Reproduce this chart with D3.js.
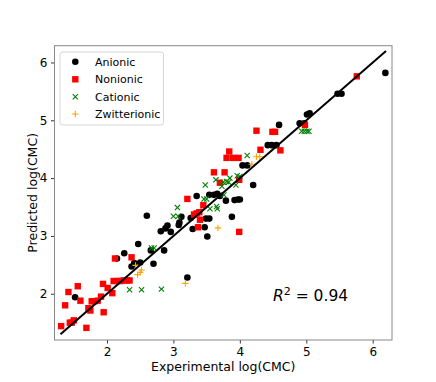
<!DOCTYPE html>
<html><head><meta charset="utf-8">
<script src="https://cdn.jsdelivr.net/npm/d3@7"></script>
<style>body{margin:0;background:#fff}svg{display:block;font-family:"DejaVu Sans",sans-serif}</style>
</head><body><svg id="c" width="436" height="382"></svg>
<script>
const anionicX = [1.52,2.15,2.26,2.37,2.41,2.47,2.50,2.60,2.66,2.70,2.81,2.86,2.88,2.91,2.96,3.08,3.09,3.12,3.21,3.26,3.29,3.35,3.47,3.49,3.51,3.54,3.54,3.61,3.66,3.70,3.79,3.88,3.92,3.97,4.00,4.04,4.11,4.20,4.42,4.48,4.55,4.59,4.90,4.97,5.01,5.05,5.47,5.53,6.19];
const anionicY = [1.94,2.61,2.70,2.47,2.53,2.86,2.54,3.35,2.75,2.52,3.08,2.75,3.13,3.18,3.07,3.19,3.23,3.33,2.28,3.31,3.12,3.69,3.15,3.30,2.99,3.30,3.71,3.71,3.73,3.69,3.61,3.33,3.62,3.63,3.63,4.22,4.22,3.88,4.57,4.57,4.57,4.92,4.95,4.95,5.10,5.12,5.46,5.46,5.82];
const nonionicX = [1.31,1.37,1.42,1.44,1.47,1.50,1.56,1.60,1.69,1.72,1.75,1.77,1.81,1.86,1.91,1.94,1.95,2.01,2.08,2.12,2.10,2.15,2.20,2.25,2.30,2.34,2.37,3.21,3.31,3.35,3.39,3.37,3.40,3.45,3.61,3.77,3.70,3.84,3.80,3.90,3.98,3.99,3.99,4.25,4.31,4.49,4.53,4.61,4.98,5.76];
const nonionicY = [1.44,1.80,2.03,1.50,1.50,1.54,2.13,1.88,1.41,1.75,1.71,1.87,1.87,1.88,1.95,2.17,1.68,2.10,2.01,2.61,2.22,2.22,2.22,2.23,2.23,2.23,2.63,3.64,3.37,3.39,3.41,3.15,3.28,3.53,4.10,4.10,3.92,4.46,4.35,4.35,4.35,3.97,3.07,4.82,4.49,4.80,4.80,4.48,4.92,5.76];
const cationicX = [2.34,2.52,2.82,2.67,2.71,3.00,3.06,3.07,3.46,3.48,3.50,3.55,3.65,3.66,3.64,3.73,3.75,3.80,3.83,3.85,3.76,3.94,3.96,4.00,4.11,4.93,4.97,5.01,5.04];
const cationicY = [2.07,2.07,2.08,2.79,2.79,3.34,3.49,3.34,3.64,3.88,3.64,3.47,3.51,3.47,3.97,3.86,3.93,3.94,3.93,4.00,3.71,3.88,4.04,4.03,4.39,4.81,4.81,4.81,4.81];
const zwitterX = [2.43,2.46,2.50,2.52,3.18,3.67,4.18,4.25,4.30];
const zwitterY = [2.49,2.33,2.37,2.41,2.18,3.14,4.24,4.37,4.37];
const xTicks = [2,3,4,5,6];
const yTicks = [2,3,4,5,6];
const legendLabels = ["Anionic","Nonionic","Cationic","Zwitterionic"];
const fitLine = [1.3,6.2];
const r2Text = "0.94";

const svg = d3.select("#c");
const L=54.5, R=392, T=45.7, B=340;
const x = d3.scaleLinear().domain([1.21,6.29]).range([L,R]);
const y = d3.scaleLinear().domain([1.20,6.29]).range([B,T]);

const xa = svg.append("g").attr("transform",`translate(0,${B})`)
  .call(d3.axisBottom(x).tickValues(xTicks).tickSize(3.5).tickPadding(3.5).tickFormat(d3.format("d")));
const ya = svg.append("g").attr("transform",`translate(${L},0)`)
  .call(d3.axisLeft(y).tickValues(yTicks).tickSize(3.5).tickPadding(3.5).tickFormat(d3.format("d")));
[xa,ya].forEach(a=>{a.select(".domain").remove();a.selectAll("text").attr("font-size",12).attr("fill","#000").attr("font-family","DejaVu Sans");a.selectAll("line").attr("stroke","#000").attr("stroke-width",0.8);});

const g = svg.append("g");
function pts(X,Y){return X.map((v,i)=>[v,Y[i]]);}
g.selectAll(".an").data(pts(anionicX,anionicY)).enter().append("circle")
  .attr("cx",d=>x(d[0])).attr("cy",d=>y(d[1])).attr("r",3.3).attr("fill","#000");
g.selectAll(".no").data(pts(nonionicX,nonionicY)).enter().append("rect")
  .attr("x",d=>x(d[0])-3.2).attr("y",d=>y(d[1])-3.2).attr("width",6.4).attr("height",6.4).attr("fill","#ff0000");
const xs=2.6;
g.selectAll(".ca").data(pts(cationicX,cationicY)).enter().append("path")
  .attr("d",d=>`M${x(d[0])-xs},${y(d[1])-xs}L${x(d[0])+xs},${y(d[1])+xs}M${x(d[0])-xs},${y(d[1])+xs}L${x(d[0])+xs},${y(d[1])-xs}`)
  .attr("stroke","#008000").attr("stroke-width",1.1).attr("fill","none");
const ps=3.2;
g.selectAll(".zw").data(pts(zwitterX,zwitterY)).enter().append("path")
  .attr("d",d=>`M${x(d[0])-ps},${y(d[1])}L${x(d[0])+ps},${y(d[1])}M${x(d[0])},${y(d[1])-ps}L${x(d[0])},${y(d[1])+ps}`)
  .attr("stroke","#ffa500").attr("stroke-width",1.1).attr("fill","none");

svg.append("line").attr("x1",x(fitLine[0])).attr("y1",y(fitLine[0])).attr("x2",x(fitLine[1])).attr("y2",y(fitLine[1]))
  .attr("stroke","#000").attr("stroke-width",2);

svg.append("rect").attr("x",L).attr("y",T).attr("width",R-L).attr("height",B-T).attr("fill","none").attr("stroke","#888").attr("stroke-width",1);

svg.append("text").attr("x",(L+R)/2).attr("y",371).attr("text-anchor","middle").attr("font-size",12.5).text("Experimental log(CMC)");
svg.append("text").attr("transform",`translate(37,${(T+B)/2}) rotate(-90)`).attr("text-anchor","middle").attr("font-size",12.5).text("Predicted log(CMC)");

const rt = svg.append("text").attr("x",273).attr("y",301).attr("font-size",15.5);
rt.append("tspan").attr("font-style","italic").text("R");
rt.append("tspan").attr("dy",-6).attr("font-size",11).text("2");
rt.append("tspan").attr("dy",6).text(" = "+r2Text);

const lg = svg.append("g");
lg.append("rect").attr("x",60).attr("y",52).attr("width",103.5).attr("height",73).attr("rx",2.5).attr("fill","#fff").attr("fill-opacity",0.8).attr("stroke","#d6d6d6").attr("stroke-width",1);
const ly=[61.7,79.3,96.7,114];
lg.append("circle").attr("cx",75.3).attr("cy",ly[0]).attr("r",3.3).attr("fill","#000");
lg.append("rect").attr("x",75.3-3.2).attr("y",ly[1]-3.2).attr("width",6.4).attr("height",6.4).attr("fill","#ff0000");
lg.append("path").attr("d",`M${75.3-xs},${ly[2]-xs}L${75.3+xs},${ly[2]+xs}M${75.3-xs},${ly[2]+xs}L${75.3+xs},${ly[2]-xs}`).attr("stroke","#008000").attr("stroke-width",1.1);
lg.append("path").attr("d",`M${75.3-ps},${ly[3]}L${75.3+ps},${ly[3]}M75.3,${ly[3]-ps}L75.3,${ly[3]+ps}`).attr("stroke","#ffa500").attr("stroke-width",1.1);
legendLabels.forEach((t,i)=>lg.append("text").attr("x",95).attr("y",ly[i]).attr("dy","0.35em").attr("font-size",11).text(t));
</script></body></html>
